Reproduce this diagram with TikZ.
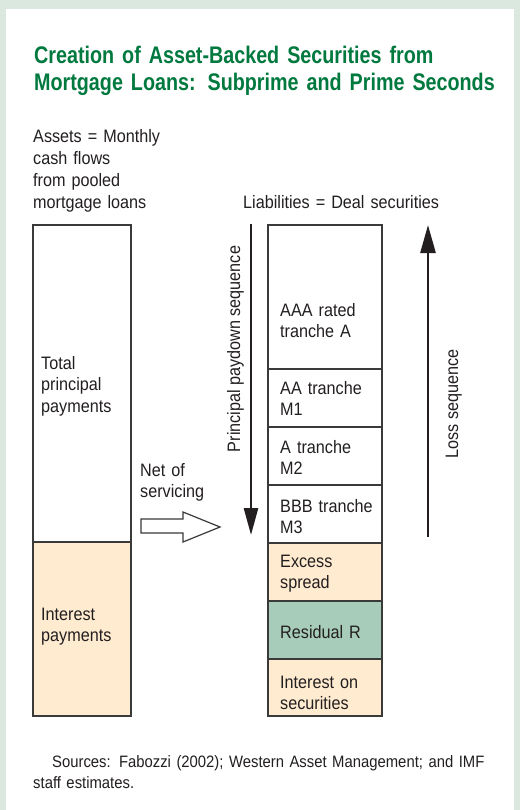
\documentclass[tikz,border=0pt]{standalone}
\usepackage{fontspec}
\setmainfont{Liberation Sans}[FakeStretch=0.9]
\newfontfamily\titlefont{Liberation Sans}[FakeStretch=0.822]
\usetikzlibrary{arrows.meta}
\definecolor{band}{HTML}{DAE8DF}
\definecolor{peach}{HTML}{FFEBD0}
\definecolor{resid}{HTML}{A8CCBA}
\definecolor{titlegreen}{HTML}{00793F}
\definecolor{ink}{HTML}{231F20}
\definecolor{edge}{HTML}{3A3A3A}
\begin{document}
\begin{tikzpicture}[x=1pt,y=-1pt,
  box/.style={draw=edge,line width=1.6pt,anchor=north west,inner sep=0pt,outer sep=0pt},
  lbl/.style={anchor=base west,align=left,text width=#1,inner sep=0pt,
    font=\fontsize{18}{21.7}\selectfont,text=ink},
  lbl/.default=130pt,
  rot/.style={rotate=90,anchor=base,inner sep=0pt,font=\fontsize{18}{21.7}\selectfont,text=ink},
  arr/.style={draw=ink,line width=2.6pt},
  hollow/.style={draw=edge,line width=1.2pt,fill=white}
]
\useasboundingbox (0,0) rectangle (520,810);
\fill[band] (0,0) rectangle (520,810);
\fill[white] (6,9) rectangle (514,810);

% title
\node[anchor=base west,align=left,text width=480pt,inner sep=0pt,
  font=\titlefont\bfseries\fontsize{24}{27}\selectfont,text=titlegreen] (title) at (34,64)
  {Creation of Asset-Backed Securities from\\Mortgage Loans: Subprime and Prime Seconds};

% headings
\node[lbl] (assets) at (33,143) {Assets = Monthly\\cash flows\\from pooled\\mortgage loans};
\node[lbl=230pt] (liab) at (243,209) {Liabilities = Deal securities};

% left column
\node[box,minimum width=98pt,minimum height=317pt] (principal) at (33,225) {};
\node[box,fill=peach,minimum width=98pt,minimum height=174pt] (interest) at (33,542) {};
\node[lbl] (tpp) at (41,369) {Total\\principal\\payments};
\node[lbl] (ip) at (41,620) {Interest\\payments};

% right column
\node[box,minimum width=114pt,minimum height=144pt] (aaa) at (268,225) {};
\node[box,minimum width=114pt,minimum height=58pt] (aa) at (268,369) {};
\node[box,minimum width=114pt,minimum height=58pt] (a) at (268,427) {};
\node[box,minimum width=114pt,minimum height=58pt] (bbb) at (268,485) {};
\node[box,fill=peach,minimum width=114pt,minimum height=58pt] (xs) at (268,543) {};
\node[box,fill=resid,minimum width=114pt,minimum height=58pt] (res) at (268,601) {};
\node[box,fill=peach,minimum width=114pt,minimum height=57pt] (ios) at (268,659) {};

\node[lbl] (taaa) at (280,316) {AAA rated\\tranche A};
\node[lbl] (taa) at (280,394) {AA tranche\\M1};
\node[lbl] (ta) at (280,453) {A tranche\\M2};
\node[lbl] (tbbb) at (280,512) {BBB tranche\\M3};
\node[lbl] (txs) at (280,567) {Excess\\spread};
\node[lbl] (tres) at (280,638) {Residual R};
\node[lbl] (tios) at (280,688) {Interest on\\securities};

% net of servicing
\node[lbl] (net) at (140,476) {Net of\\servicing};
\draw[hollow] (141,519) -- (183,519) -- (183,512) -- (220,527) -- (183,542) -- (183,533) -- (141,533) -- cycle;

% sequences
\node[rot] (pds) at (240,349) {Principal paydown sequence};
\node[rot] (loss) at (458,404) {Loss sequence};
\coordinate (pdtop) at (251,224);
\coordinate (pdbot) at (251,535);
\draw[arr,-{Triangle[length=27pt,width=14pt]}] (pdtop) -- (pdbot);
\coordinate (lsbot) at (428,537);
\coordinate (lstop) at (428,225);
\draw[arr,-{Triangle[length=28pt,width=15pt]}] (lsbot) -- (lstop);

% sources
\node[anchor=base west,align=left,text width=470pt,inner sep=0pt,
  font=\fontsize{16.5}{21.5}\selectfont,text=ink] (sources) at (33,767)
  {\hspace*{19pt}Sources: Fabozzi (2002); Western Asset Management; and IMF\\staff estimates.};
\end{tikzpicture}
\end{document}
